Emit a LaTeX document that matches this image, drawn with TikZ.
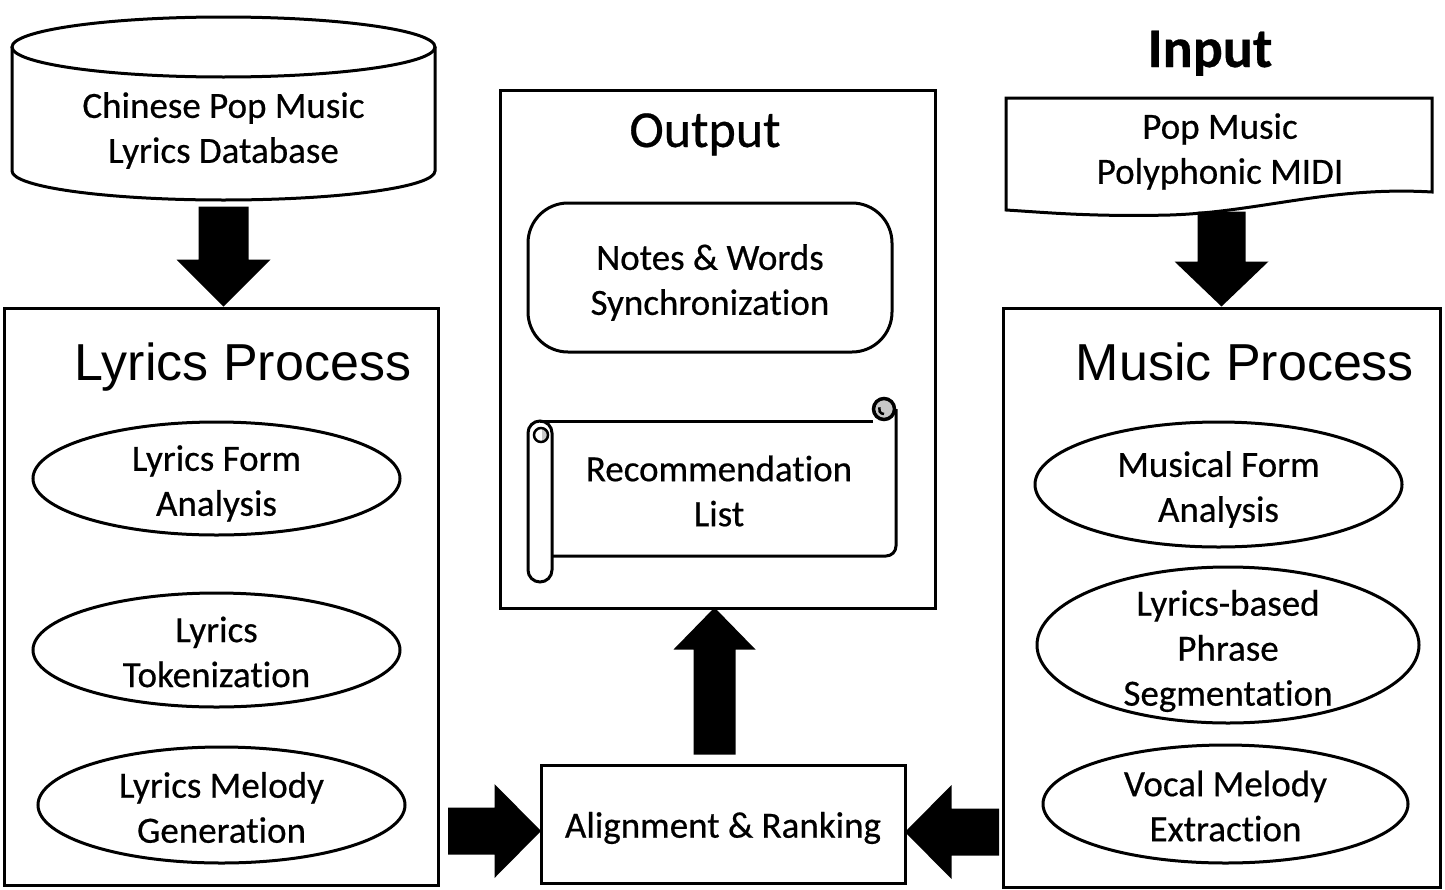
\documentclass[tikz,border=0pt]{standalone}
\usepackage{fontspec}
\setmainfont[Ligatures=NoCommon, FakeBold=0.5]{Carlito}
\newfontfamily\arialf{Liberation Sans}
\usetikzlibrary{shapes.geometric,calc}
\newcommand\bodyfs{\fontsize{37pt}{45pt}\selectfont}
\begin{document}
\begin{tikzpicture}[x=1pt,y=-1pt, line width=3pt,
  box/.style={draw, rectangle, inner sep=0pt},
  ell/.style={draw, ellipse, inner sep=0pt},
  txt/.style={align=center, font=\bodyfs, inner sep=0pt},
  titlearial/.style={font=\arialf\fontsize{52pt}{60pt}\selectfont, inner sep=0pt, anchor=base},
  titlecal/.style={font=\fontsize{52pt}{60pt}\selectfont, inner sep=0pt, anchor=base},
  curlfill/.style={fill=black!22},
  blockarrow/.style={fill=black, draw=none}
]
\useasboundingbox (0,0) rectangle (1445,889);

% ---- main containers
\node[box, minimum width=434pt, minimum height=577pt] (lyr) at (221,596.5) {};
\node[box, minimum width=437pt, minimum height=579pt] (mus) at (1221.5,597.5) {};
\node[box, minimum width=435pt, minimum height=518pt] (out) at (717.5,349) {};

% ---- titles
\node[titlearial] (lyrt) at (243,380) {Lyrics Process};
\node[titlearial] (must) at (1245,380) {Music Process};
\node[titlecal] (outt) at (705,147) {Output};
\node[titlecal, font=\bfseries\fontsize{56pt}{60pt}\selectfont] (inpt) at (1210,67) {Input};

% ---- database cylinder
\draw (12,47) -- (12,171) arc[start angle=180, end angle=360, x radius=211.5pt, y radius=29pt] -- (435,47);
\draw (223.5,47) ellipse[x radius=211.5pt, y radius=30pt];
\node[txt, minimum width=423pt, minimum height=139pt] (cyl) at (223.5,130.5) {Chinese Pop Music\\Lyrics Database};

% ---- input document
\draw (1006,210) -- (1006,98) -- (1432,98) -- (1432,192)
  .. controls (1330,186) and (1260,212) .. (1170,215)
  .. controls (1090,217) and (1040,212) .. (1006,210) -- cycle;
\node[txt, minimum width=426pt, minimum height=97pt] (doc) at (1220,151.5) {Pop Music\\Polyphonic MIDI};

% ---- output contents
\node[box, rounded corners=40pt, minimum width=364pt, minimum height=149pt] (nw) at (710,277.5) {};
\node[txt, yshift=-5pt] (nwt) at (nw) {Notes \& Words\\Synchronization};

% scroll
\draw (540,421) -- (873,421);
\draw (896,409) -- (896,546) arc[start angle=0, end angle=-90, radius=10pt] -- (552,556);
\draw (528,433) -- (528,570) arc[start angle=180, end angle=360, radius=12pt] -- (552,433) arc[start angle=0, end angle=180, radius=12pt];
\fill[curlfill] (542,428) arc[start angle=90, end angle=-90, radius=7pt] -- cycle;
\draw[line width=2.5pt] (541,435) circle[radius=7pt];
\fill[curlfill] (884,409) circle[radius=9pt];
\draw[line width=3.5pt] (884,409) circle[radius=10.5pt];
\draw[line width=2.5pt] (884,414) arc[start angle=-90, end angle=-200, radius=5pt];
\node[txt, minimum width=347pt, minimum height=138pt] (rec) at (719,491) {Recommendation\\List};

\node[box, minimum width=364pt, minimum height=118pt] (align) at (723,824) {};
\node[txt, yshift=-4pt] (alignt) at (align) {Alignment \& Ranking};

% ---- process ellipses
\node[ell, minimum width=367pt, minimum height=113pt] (e1) at (216.5,478.5) {};
\node[txt, yshift=-5pt] (e1t) at (e1) {Lyrics Form\\Analysis};
\node[ell, minimum width=367pt, minimum height=114pt] (e2) at (216.5,650) {};
\node[txt, yshift=-2pt] (e2t) at (e2) {Lyrics\\Tokenization};
\node[ell, minimum width=367pt, minimum height=116pt] (e3) at (221.5,805) {};
\node[txt, yshift=-2.5pt] (e3t) at (e3) {Lyrics Melody\\Generation};
\node[ell, minimum width=367pt, minimum height=125pt] (e4) at (1218.5,484.5) {};
\node[txt, yshift=-5pt] (e4t) at (e4) {Musical Form\\Analysis};
\node[ell, minimum width=382pt, minimum height=156pt] (e5) at (1228,645) {};
\node[txt, yshift=-6pt] (e5t) at (e5) {Lyrics-based\\Phrase\\Segmentation};
\node[ell, minimum width=365pt, minimum height=118pt] (e6) at (1225.5,804) {};
\node[txt, yshift=-2pt] (e6t) at (e6) {Vocal Melody\\Extraction};

% ---- block arrows
\fill[blockarrow] let \p1=(cyl.south), \p2=(lyr.north) in
  (\x1-25pt,\y1-5pt) -- (\x1-25pt,\y2+47pt) -- (\x1-47pt,\y2+47pt) -- (\x1,\y2)
  -- (\x1+47pt,\y2+47pt) -- (\x1+25pt,\y2+47pt) -- (\x1+25pt,\y1-5pt) -- cycle;
\fill[blockarrow] let \p1=(doc.south), \p2=(mus.north) in
  (\x2-24pt,\y1-10pt) -- (\x2-24pt,\y2+45pt) -- (\x2-47pt,\y2+45pt) -- (\x2,\y2)
  -- (\x2+47pt,\y2+45pt) -- (\x2+24pt,\y2+45pt) -- (\x2+24pt,\y1-10pt) -- cycle;
\fill[blockarrow] let \p1=(align.north), \p2=(out.south) in
  (\x2-24pt,\y1+9pt) -- (\x2-24pt,\y2-40pt) -- (\x2-44pt,\y2-40pt) -- (\x2-3pt,\y2+2pt)
  -- (\x2+38pt,\y2-40pt) -- (\x2+18pt,\y2-40pt) -- (\x2+18pt,\y1+9pt) -- cycle;
\fill[blockarrow] let \p1=(lyr.east), \p2=(align.west) in
  (\x1+8.5pt,\y2-7pt+23.5pt) -- (\x2-45pt,\y2-7pt+23.5pt) -- (\x2-45pt,\y2-7pt+47pt) -- (\x2+1.5pt,\y2-7pt)
  -- (\x2-45pt,\y2-7pt-47pt) -- (\x2-45pt,\y2-7pt-23.5pt) -- (\x1+8.5pt,\y2-7pt-23.5pt) -- cycle;
\fill[blockarrow] let \p1=(mus.west), \p2=(align.east) in
  (\x1-2.5pt,\y2-8pt+23.5pt) -- (\x2+45pt,\y2-8pt+23.5pt) -- (\x2+45pt,\y2-8pt+47pt) -- (\x2-1.5pt,\y2-8pt)
  -- (\x2+45pt,\y2-8pt-47pt) -- (\x2+45pt,\y2-8pt-23.5pt) -- (\x1-2.5pt,\y2-8pt-23.5pt) -- cycle;
\end{tikzpicture}
\end{document}
